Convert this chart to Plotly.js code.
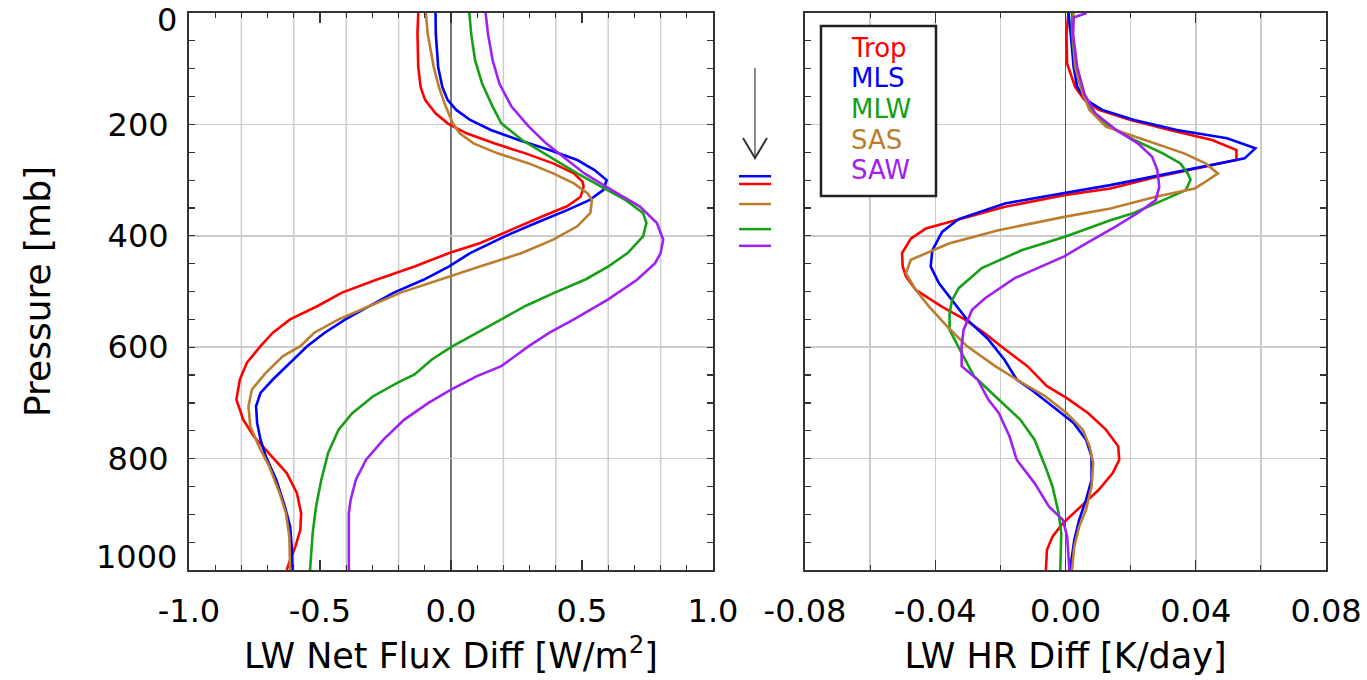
<!DOCTYPE html>
<html>
<head>
<meta charset="utf-8">
<script src="https://cdn.plot.ly/plotly-3.0.1.min.js"></script>
<style>html,body{margin:0;padding:0;background:#fff}#chart{width:1367px;height:680px}</style>
</head>
<body>
<div id="chart"></div>
<script>
// ---------- series ----------
const seriesNames  = ['Trop', 'MLS', 'MLW', 'SAS', 'SAW'];
const seriesColors = ['#ff0000', '#0000ff', '#15a015', '#bb7d2e', '#a020f0'];

// ---------- left panel: LW Net Flux Diff [W/m2] vs pressure [mb] ----------
const fluxP_Trop = [0, 37, 97, 133, 156, 180, 198, 216, 234, 252, 270, 288, 303, 312, 330, 347, 365, 389, 413, 431, 455, 479, 502, 526, 550, 574, 598, 628, 658, 694, 730, 760, 790, 826, 862, 898, 928, 958, 982, 1000];
const fluxX_Trop = [-0.125, -0.128, -0.125, -0.116, -0.099, -0.059, -0.013, 0.059, 0.165, 0.284, 0.39, 0.469, 0.502, 0.506, 0.495, 0.443, 0.35, 0.231, 0.112, -0.007, -0.139, -0.285, -0.416, -0.509, -0.614, -0.68, -0.727, -0.779, -0.806, -0.819, -0.793, -0.753, -0.694, -0.627, -0.588, -0.572, -0.575, -0.594, -0.614, -0.627];

const fluxP_MLS = [0, 37, 97, 133, 156, 174, 192, 210, 228, 246, 264, 282, 300, 318, 336, 354, 377, 401, 431, 455, 479, 502, 526, 550, 574, 598, 628, 658, 682, 706, 736, 766, 796, 838, 886, 922, 958, 1000];
const fluxX_MLS = [-0.059, -0.058, -0.049, -0.033, -0.013, 0.02, 0.073, 0.152, 0.258, 0.376, 0.482, 0.548, 0.594, 0.581, 0.528, 0.443, 0.324, 0.205, 0.073, -0.007, -0.105, -0.218, -0.31, -0.403, -0.482, -0.548, -0.614, -0.68, -0.727, -0.744, -0.74, -0.727, -0.707, -0.667, -0.634, -0.614, -0.608, -0.605];

const fluxP_MLW = [0, 37, 85, 127, 168, 198, 228, 258, 288, 312, 336, 359, 377, 401, 431, 455, 478, 502, 526, 550, 574, 600, 622, 649, 664, 688, 718, 748, 790, 838, 886, 934, 1000];
const fluxX_MLW = [0.07, 0.077, 0.092, 0.119, 0.159, 0.192, 0.271, 0.376, 0.482, 0.575, 0.667, 0.733, 0.746, 0.733, 0.674, 0.601, 0.515, 0.396, 0.284, 0.192, 0.099, 0.0, -0.073, -0.139, -0.205, -0.297, -0.376, -0.429, -0.469, -0.495, -0.515, -0.528, -0.538];

const fluxP_SAS = [0, 37, 97, 133, 168, 198, 216, 234, 252, 270, 288, 306, 324, 336, 359, 383, 407, 431, 455, 472, 490, 502, 526, 550, 574, 598, 616, 646, 676, 706, 742, 778, 814, 862, 898, 940, 1000];
const fluxX_SAS = [-0.096, -0.089, -0.066, -0.046, -0.02, 0.007, 0.033, 0.086, 0.178, 0.297, 0.39, 0.469, 0.522, 0.538, 0.532, 0.482, 0.39, 0.27, 0.11, 0.0, -0.12, -0.192, -0.31, -0.429, -0.522, -0.575, -0.641, -0.707, -0.76, -0.773, -0.766, -0.733, -0.694, -0.654, -0.63, -0.617, -0.614];

const fluxP_SAW = [0, 37, 85, 127, 168, 204, 234, 258, 288, 318, 347, 377, 407, 431, 449, 479, 514, 550, 574, 598, 634, 652, 676, 700, 730, 766, 802, 838, 874, 898, 1000];
const fluxX_SAW = [0.132, 0.141, 0.159, 0.185, 0.231, 0.297, 0.363, 0.429, 0.509, 0.614, 0.72, 0.786, 0.81, 0.8, 0.779, 0.71, 0.6, 0.469, 0.376, 0.297, 0.192, 0.099, 0.0, -0.086, -0.178, -0.258, -0.324, -0.363, -0.383, -0.39, -0.39];

// ---------- right panel: LW HR Diff [K/day] vs pressure [mb] ----------
const hrP_Trop = [0, 37, 91, 133, 156, 174, 192, 210, 228, 246, 264, 276, 294, 315, 327, 348, 372, 387, 405, 431, 455, 473, 497, 527, 550, 574, 598, 634, 670, 691, 718, 748, 778, 802, 826, 856, 892, 916, 940, 964, 1000];
const hrX_Trop = [0.0009, 0.0003, 0.0005, 0.003, 0.0058, 0.0102, 0.02, 0.032, 0.045, 0.0525, 0.0525, 0.0426, 0.0282, 0.0138, -0.0004, -0.0186, -0.0338, -0.0429, -0.0475, -0.0502, -0.05, -0.049, -0.046, -0.038, -0.031, -0.025, -0.0199, -0.0117, -0.0057, 0.0003, 0.0069, 0.0124, 0.0162, 0.0165, 0.0145, 0.0102, 0.0036, -0.0008, -0.004, -0.0057, -0.006];

const hrP_MLS = [0, 37, 97, 133, 156, 174, 192, 210, 225, 243, 261, 276, 294, 309, 323, 342, 370, 393, 426, 455, 485, 515, 550, 586, 622, 658, 676, 706, 736, 766, 796, 838, 874, 910, 946, 1000];
const hrX_MLS = [0.0009, 0.0016, 0.0025, 0.0036, 0.0063, 0.0113, 0.0211, 0.0342, 0.0496, 0.0583, 0.055, 0.0424, 0.0271, 0.0138, -0.0004, -0.0186, -0.0328, -0.0379, -0.0409, -0.0414, -0.0389, -0.0348, -0.0303, -0.0237, -0.0188, -0.015, -0.0106, -0.004, 0.0025, 0.0063, 0.008, 0.008, 0.0063, 0.0042, 0.0027, 0.0014];

const hrP_MLW = [0, 37, 97, 145, 174, 204, 228, 252, 270, 288, 299, 318, 336, 359, 372, 402, 426, 458, 494, 515, 539, 569, 616, 652, 688, 730, 766, 814, 850, 898, 934, 1000];
const hrX_MLW = [0.002, 0.002, 0.003, 0.0053, 0.008, 0.0135, 0.0211, 0.0299, 0.0353, 0.0375, 0.0384, 0.037, 0.03, 0.021, 0.0138, -0.0004, -0.0135, -0.0257, -0.0328, -0.0348, -0.0356, -0.0356, -0.0314, -0.0281, -0.0216, -0.0139, -0.0095, -0.0062, -0.004, -0.0021, -0.0013, -0.0016];

const hrP_SAS = [0, 37, 97, 145, 174, 204, 228, 252, 270, 288, 303, 315, 330, 351, 366, 390, 414, 435, 443, 467, 497, 527, 566, 598, 634, 658, 688, 718, 748, 778, 808, 850, 892, 922, 958, 1000];
const hrX_SAS = [0.0025, 0.0023, 0.003, 0.0053, 0.0074, 0.0124, 0.0244, 0.0364, 0.043, 0.0468, 0.043, 0.0397, 0.0277, 0.0138, -0.0004, -0.0206, -0.0358, -0.0439, -0.0475, -0.049, -0.046, -0.0419, -0.0358, -0.0303, -0.0216, -0.015, -0.0062, 0.0003, 0.0053, 0.0074, 0.0085, 0.008, 0.0063, 0.0042, 0.0027, 0.002];

const hrP_SAW = [0, 8, 37, 97, 145, 180, 210, 234, 258, 282, 312, 336, 359, 383, 413, 437, 476, 512, 533, 569, 598, 634, 658, 694, 718, 760, 802, 844, 886, 910, 940, 1000];
const hrX_SAW = [0.0065, 0.0025, 0.0023, 0.0036, 0.0058, 0.0091, 0.0156, 0.0222, 0.0266, 0.0282, 0.0288, 0.0277, 0.0222, 0.0155, 0.0065, -0.0004, -0.0156, -0.0247, -0.0287, -0.0313, -0.0319, -0.0319, -0.027, -0.0237, -0.0205, -0.0172, -0.015, -0.0095, -0.0051, -0.0008, 0.0005, 0.0012];

// pressure level marks drawn between the panels (one per series) [mb]
const markerLevels = [307, 293, 388, 343, 418];

// ---------- ticks / grid ----------
const fluxTickVals = [-1, -0.5, 0, 0.5, 1];
const fluxTickText = ['-1.0', '-0.5', '0.0', '0.5', '1.0'];
const fluxGridVals = [-0.8, -0.6, -0.4, -0.2, 0.2, 0.4, 0.6, 0.8];
const hrTickVals = [-0.08, -0.04, 0, 0.04, 0.08];
const hrTickText = ['-0.08', '-0.04', '0.00', '0.04', '0.08'];
const pressureTickVals = [0, 200, 400, 600, 800, 1000];
// end labels (0 and 1000) are set slightly inside the frame, as in the original
const pressureTickText = ['', '200', '400', '600', '800', ''];
const pressureEndVals = [0, 1000];
const pressureEndText = ['0', '1000'];

// ---------- build ----------
const fluxP = [fluxP_Trop, fluxP_MLS, fluxP_MLW, fluxP_SAS, fluxP_SAW];
const fluxX = [fluxX_Trop, fluxX_MLS, fluxX_MLW, fluxX_SAS, fluxX_SAW];
const hrP = [hrP_Trop, hrP_MLS, hrP_MLW, hrP_SAS, hrP_SAW];
const hrX = [hrX_Trop, hrX_MLS, hrX_MLW, hrX_SAS, hrX_SAW];

const FONT = 'DejaVu Sans, Liberation Sans, sans-serif';
const GRID = '#cccccc';
const FRAME = '#333333';
const LW = 2.6;

const traces = [];
seriesNames.forEach((name, i) => {
  traces.push({x: fluxX[i], y: fluxP[i], xaxis: 'x', yaxis: 'y', mode: 'lines', name: name,
    line: {color: seriesColors[i], width: LW}, showlegend: false, hoverinfo: 'skip'});
});
seriesNames.forEach((name, i) => {
  traces.push({x: hrX[i], y: hrP[i], xaxis: 'x2', yaxis: 'y2', mode: 'lines', name: name,
    line: {color: seriesColors[i], width: LW}, showlegend: false, hoverinfo: 'skip'});
});

const plotL = 189, plotR = 1326, plotT = 13, plotB = 570;
const W = 1367, H = 680;
const pw = plotR - plotL, ph = plotB - plotT;
const px = v => (v - plotL) / pw;          // pixel -> paper x
const py = v => 1 - (v - plotT) / ph;      // pixel -> paper y

const shapes = [];
// left panel vertical grid (every 0.2) and zero line
fluxGridVals.forEach(v => {
  shapes.push({type: 'line', xref: 'x', yref: 'y domain', x0: v, x1: v, y0: 0, y1: 1,
    line: {color: GRID, width: 1.5}, layer: 'below'});
});
shapes.push({type: 'line', xref: 'x', yref: 'y domain', x0: 0, x1: 0, y0: 0, y1: 1,
  line: {color: '#555', width: 1.6}, layer: 'below'});
// legend box
shapes.push({type: 'rect', xref: 'paper', yref: 'paper', x0: px(821), x1: px(936), y0: py(196), y1: py(26),
  line: {color: '#222', width: 2.5}, fillcolor: '#ffffff', layer: 'above'});
// level marks between panels
seriesNames.forEach((name, i) => {
  shapes.push({type: 'line', xref: 'paper', yref: 'y', x0: px(739), x1: px(771), y0: markerLevels[i], y1: markerLevels[i],
    line: {color: seriesColors[i], width: 2.5}});
});
// arrow
shapes.push({type: 'line', xref: 'paper', yref: 'paper', x0: px(755), x1: px(755), y0: py(68), y1: py(157),
  line: {color: '#8a8a8a', width: 2}});
shapes.push({type: 'path', xref: 'paper', yref: 'paper',
  path: `M ${px(743)},${py(138)} L ${px(755)},${py(158)} L ${px(767)},${py(138)}`,
  line: {color: '#333', width: 2}});

const annotations = seriesNames.map((name, i) => ({
  xref: 'paper', yref: 'paper', x: px(849), y: py(48 + 30.5 * i), xanchor: 'left', yanchor: 'middle',
  text: name, showarrow: false, font: {family: FONT, size: 26, color: seriesColors[i]}
}));
// end pressure labels, nudged inside the frame
const endShift = [-7, 13];
pressureEndVals.forEach((v, i) => {
  annotations.push({xref: 'paper', yref: 'y', x: 0, y: v, xanchor: 'right', yanchor: 'middle',
    xshift: -11, yshift: endShift[i], text: pressureEndText[i], showarrow: false, borderpad: 0,
    font: {family: FONT, size: 32, color: '#000'}});
});

const tickCommon = {ticks: 'inside', tickcolor: FRAME, tickwidth: 1.2, showline: true, linecolor: FRAME, linewidth: 2,
  mirror: 'allticks', automargin: false, fixedrange: true, ticklabeloverflow: 'allow',
  tickfont: {family: FONT, size: 32, color: '#000'}};

const layout = {
  width: W, height: H,
  margin: {l: plotL, r: W - plotR, t: plotT, b: H - plotB, pad: 0},
  paper_bgcolor: '#fff', plot_bgcolor: '#fff', showlegend: false,
  font: {family: FONT, size: 32, color: '#000'},
  xaxis: Object.assign({}, tickCommon, {
    domain: [0, (713 - plotL) / pw], range: [-1, 1], anchor: 'y',
    tickmode: 'array', tickvals: fluxTickVals, ticktext: fluxTickText, ticklen: 10,
    minor: {dtick: 0.1, tick0: 0, ticks: 'inside', ticklen: 5, tickwidth: 1.2, tickcolor: FRAME, showgrid: false},
    showgrid: false, zeroline: false, ticklabelstandoff: 12,
    title: {text: 'LW Net Flux Diff [W/m<sup>2</sup>]', font: {family: FONT, size: 35, color: '#000'}, standoff: 14}
  }),
  xaxis2: Object.assign({}, tickCommon, {
    domain: [(805 - plotL) / pw, 1], range: [-0.08, 0.08], anchor: 'y2',
    tickmode: 'array', tickvals: hrTickVals, ticktext: hrTickText, ticklen: 10,
    minor: {dtick: 0.02, tick0: 0, ticks: 'inside', ticklen: 5, tickwidth: 1.2, tickcolor: FRAME, showgrid: true, gridcolor: GRID, gridwidth: 1.5},
    showgrid: true, gridcolor: GRID, gridwidth: 1.5,
    zeroline: true, zerolinecolor: '#555', zerolinewidth: 1.4, ticklabelstandoff: 12,
    title: {text: 'LW HR Diff [K/day]', font: {family: FONT, size: 35, color: '#000'}, standoff: 14}
  }),
  yaxis: Object.assign({}, tickCommon, {
    domain: [0, 1], range: [1000, 0], anchor: 'x',
    tickmode: 'array', tickvals: pressureTickVals, ticktext: pressureTickText, ticklen: 6,
    minor: {dtick: 50, tick0: 0, ticks: 'inside', ticklen: 6, tickwidth: 1.2, tickcolor: FRAME, showgrid: false},
    showgrid: true, gridcolor: GRID, gridwidth: 1.5, zeroline: false, ticklabelstandoff: 12,
    title: {text: 'Pressure [mb]', font: {family: FONT, size: 36, color: '#000'}, standoff: 46}
  }),
  yaxis2: Object.assign({}, tickCommon, {
    domain: [0, 1], range: [1000, 0], anchor: 'x2',
    tickmode: 'array', tickvals: pressureTickVals, ticklen: 6, showticklabels: false,
    minor: {dtick: 50, tick0: 0, ticks: 'inside', ticklen: 6, tickwidth: 1.2, tickcolor: FRAME, showgrid: false},
    showgrid: true, gridcolor: GRID, gridwidth: 1.5, zeroline: false
  }),
  shapes: shapes,
  annotations: annotations
};

Plotly.newPlot('chart', traces, layout, {displayModeBar: false, staticPlot: true});
</script>
</body>
</html>
